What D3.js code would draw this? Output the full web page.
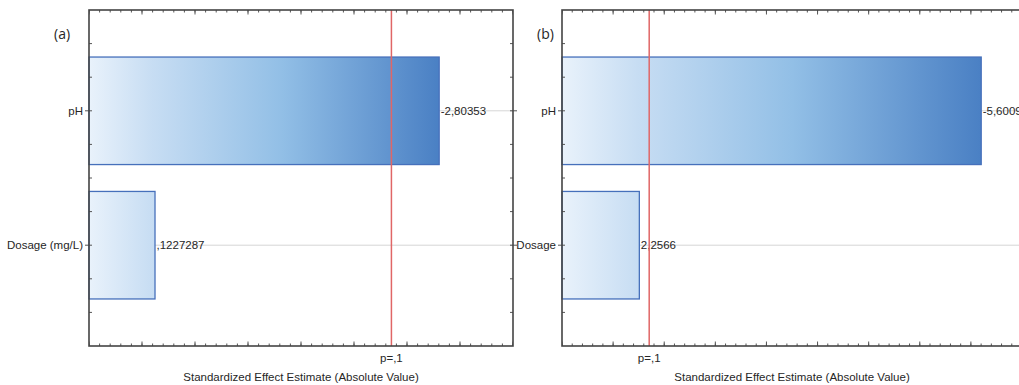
<!DOCTYPE html>
<html>
<head>
<meta charset="utf-8">
<script src="https://cdn.jsdelivr.net/npm/d3@7"></script>
<style>
  body { margin: 0; background: #fff; }
  svg { display: block; }
  text { font-family: "Liberation Sans", Arial, sans-serif; fill: #262626; }
</style>
</head>
<body>
<svg id="chart" width="1019" height="385"></svg>
<script>
// ---------- data ----------
const factorsA = ["pH", "Dosage (mg/L)"];
const effectsA = [2.80353, 0.1227287];
const valueLabelsA = ["-2,80353", ",1227287"];
const domainA = [-0.5, 3.5];

const factorsB = ["pH", "Dosage"];
const effectsB = [5.6009, 2.2566];
const valueLabelsB = ["-5,6009", "2,2566"];
const domainB = [1.5, 6.0];

const criticalT = 2.353;        // p=,1 line
const criticalLabel = "p=,1";
const axisTitle = "Standardized Effect Estimate (Absolute Value)";

const svg = d3.select("#chart");
const defs = svg.append("defs");

// one panel of the pareto chart
function drawPanel(id, left, right, factors, effects, valueLabels, domain, tag, tagX) {
  const top = 10, bottom = 346;
  const g = svg.append("g").attr("id", id);

  const x = d3.scaleLinear().domain(domain).range([left, right]);
  const y = d3.scaleLinear().domain([0.25, 2.75]).range([top, bottom]);

  const clipId = "clip-" + id;
  defs.append("clipPath").attr("id", clipId)
    .append("rect").attr("x", left).attr("y", top - 20)
    .attr("width", right - left).attr("height", bottom - top + 60);

  // gradient in plot space, light at axis start -> dark at longest bar
  const gradId = "grad-" + id;
  const grad = defs.append("linearGradient").attr("id", gradId)
    .attr("gradientUnits", "userSpaceOnUse")
    .attr("x1", x(domain[0])).attr("x2", x(d3.max(effects))).attr("y1", 0).attr("y2", 0);
  grad.append("stop").attr("offset", "0%").attr("stop-color", "#e9f2fb");
  grad.append("stop").attr("offset", "18%").attr("stop-color", "#c7ddf3");
  grad.append("stop").attr("offset", "55%").attr("stop-color", "#92bfe6");
  grad.append("stop").attr("offset", "100%").attr("stop-color", "#4a80c4");

  // horizontal grid lines at factor positions
  g.selectAll(".grid").data(factors).enter().append("line")
    .attr("x1", left).attr("x2", right)
    .attr("y1", (d, i) => y(i + 1)).attr("y2", (d, i) => y(i + 1))
    .attr("stroke", "#d6d6d6").attr("stroke-width", 1);

  // bars
  g.selectAll(".bar").data(effects).enter().append("rect")
    .attr("x", x(domain[0]))
    .attr("y", (d, i) => y(i + 1 - 0.4))
    .attr("width", d => x(d) - x(domain[0]))
    .attr("height", y(1.4) - y(0.6))
    .attr("fill", "url(#" + gradId + ")")
    .attr("stroke", "#4670bb").attr("stroke-width", 1.3);

  // value labels at bar ends
  g.append("g").attr("clip-path", "url(#" + clipId + ")")
    .selectAll("text").data(valueLabels).enter().append("text")
    .attr("x", (d, i) => x(effects[i]) + 1.5)
    .attr("y", (d, i) => y(i + 1) + 4)
    .attr("font-size", 11.5)
    .text(d => d);

  // critical value line
  g.append("line")
    .attr("x1", x(criticalT)).attr("x2", x(criticalT))
    .attr("y1", top).attr("y2", bottom)
    .attr("stroke", "#e06666").attr("stroke-width", 1.5);
  g.append("text")
    .attr("x", x(criticalT)).attr("y", 362)
    .attr("text-anchor", "middle").attr("font-size", 11.5)
    .text(criticalLabel);

  // ticks (inward) on bottom and top
  const minorX = d3.range(domain[0], domain[1] + 1e-9, 0.1);
  const majorX = d3.range(domain[0], domain[1] + 1e-9, 0.5);
  const tickG = g.append("g").attr("stroke", "#555").attr("stroke-width", 1)
    .attr("clip-path", "url(#" + clipId + ")");
  minorX.forEach(v => {
    tickG.append("line").attr("x1", x(v)).attr("x2", x(v)).attr("y1", bottom).attr("y2", bottom - 2.5);
    tickG.append("line").attr("x1", x(v)).attr("x2", x(v)).attr("y1", top).attr("y2", top + 2.5);
  });
  majorX.forEach(v => {
    tickG.append("line").attr("x1", x(v)).attr("x2", x(v)).attr("y1", bottom).attr("y2", bottom - 4.5);
    tickG.append("line").attr("x1", x(v)).attr("x2", x(v)).attr("y1", top).attr("y2", top + 4.5);
  });

  // y ticks: minor inward, major at factors outward
  const minorY = d3.range(0.5, 2.75, 0.25).filter(v => v !== 1 && v !== 2);
  const yTickG = g.append("g").attr("stroke", "#555").attr("stroke-width", 1);
  minorY.forEach(v => {
    yTickG.append("line").attr("x1", left).attr("x2", left + 3).attr("y1", y(v)).attr("y2", y(v));
    yTickG.append("line").attr("x1", right).attr("x2", right - 3).attr("y1", y(v)).attr("y2", y(v));
  });
  factors.forEach((f, i) => {
    yTickG.append("line").attr("x1", left - 4).attr("x2", left + 3).attr("y1", y(i + 1)).attr("y2", y(i + 1));
    yTickG.append("line").attr("x1", right + 4).attr("x2", right - 3).attr("y1", y(i + 1)).attr("y2", y(i + 1));
  });

  // factor labels
  g.selectAll(".flabel").data(factors).enter().append("text")
    .attr("x", left - 6).attr("y", (d, i) => y(i + 1) + 4)
    .attr("text-anchor", "end").attr("font-size", 11.5)
    .text(d => d);

  // frame
  g.append("rect")
    .attr("x", left).attr("y", top)
    .attr("width", right - left).attr("height", bottom - top)
    .attr("fill", "none").attr("stroke", "#444").attr("stroke-width", 1.6);

  // axis title
  g.append("text")
    .attr("x", (left + right) / 2).attr("y", 381)
    .attr("text-anchor", "middle").attr("font-size", 11.5)
    .text(axisTitle);

  // panel tag
  g.append("text")
    .attr("x", tagX).attr("y", 39)
    .style("font-family", "'Open Sans', sans-serif")
    .attr("font-size", 14).attr("fill", "#111")
    .text(tag);
}

drawPanel("a", 89, 513, factorsA, effectsA, valueLabelsA, domainA, "(a)", 54);
drawPanel("b", 562, 1022, factorsB, effectsB, valueLabelsB, domainB, "(b)", 537);
</script>
</body>
</html>
